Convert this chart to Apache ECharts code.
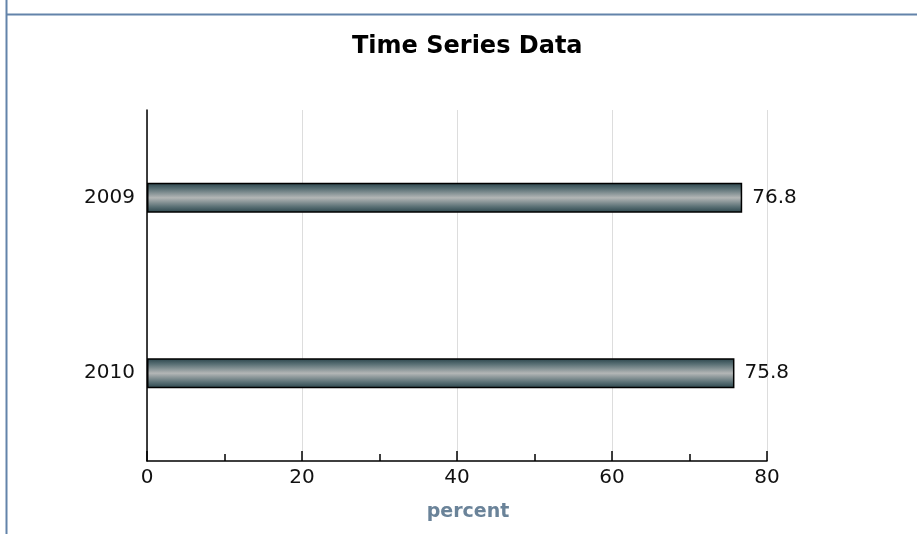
<!DOCTYPE html>
<html>
<head>
<meta charset="utf-8">
<script src="https://cdn.jsdelivr.net/npm/echarts@6/dist/echarts.min.js"></script>
<style>html,body{margin:0;padding:0;background:#fff}#c{width:917px;height:534px}</style>
</head>
<body>
<div id="c"></div>
<script>
var categories = ['2009', '2010'];
var values = [76.8, 75.8];
var xTicks = [0, 20, 40, 60, 80];

var FONT = 'DejaVu Sans, Verdana, sans-serif';
var chart = echarts.init(document.getElementById('c'));
var grad = new echarts.graphic.LinearGradient(0, 0, 0, 1, [
  {offset: 0, color: '#29434a'},
  {offset: 0.2, color: '#5a7075'},
  {offset: 0.5, color: '#b3b6b6'},
  {offset: 0.8, color: '#5a7075'},
  {offset: 1, color: '#29434a'}
]);
chart.setOption({
  animation: false,
  title: {
    text: 'Time Series Data', left: 352, top: 30, padding: [5, 0, 5, 0],
    textStyle: {fontFamily: FONT, fontSize: 24, fontWeight: 'bold', color: '#000'}
  },
  graphic: [
    {type: 'line', shape: {x1: 6.5, y1: 0, x2: 6.5, y2: 534}, style: {stroke: '#6383aa', lineWidth: 2}},
    {type: 'line', shape: {x1: 6, y1: 14.5, x2: 917, y2: 14.5}, style: {stroke: '#6383aa', lineWidth: 2}}
  ],
  grid: {left: 147, right: 150, top: 110, bottom: 73, containLabel: false},
  xAxis: {
    type: 'value', min: xTicks[0], max: xTicks[xTicks.length - 1], interval: 20,
    name: 'percent', nameLocation: 'middle', nameGap: 42,
    nameTextStyle: {fontFamily: FONT, fontSize: 19, fontWeight: 'bold', color: '#6a8399', padding: [0, 0, 0, 22]},
    axisLine: {show: true, lineStyle: {color: '#000', width: 1.5}},
    axisTick: {show: true, inside: true, length: 10, lineStyle: {color: '#000', width: 1.5}},
    minorTick: {show: true, splitNumber: 2, length: 7, lineStyle: {color: '#000', width: 1.5}},
    splitLine: {show: true, lineStyle: {color: '#dddddd', width: 1}},
    axisLabel: {fontFamily: FONT, fontSize: 20, color: '#111', margin: 7}
  },
  yAxis: {
    type: 'category', data: categories, inverse: true,
    axisLine: {show: true, lineStyle: {color: '#000', width: 1.5}},
    axisTick: {show: false},
    axisLabel: {fontFamily: FONT, fontSize: 20, color: '#111', margin: 12}
  },
  series: [{
    type: 'bar', data: values, barWidth: 30,
    itemStyle: {color: grad, borderColor: '#000', borderWidth: 1.5},
    label: {show: true, position: 'right', distance: 10, fontFamily: FONT, fontSize: 20, color: '#111'}
  }]
});
</script>
</body>
</html>
